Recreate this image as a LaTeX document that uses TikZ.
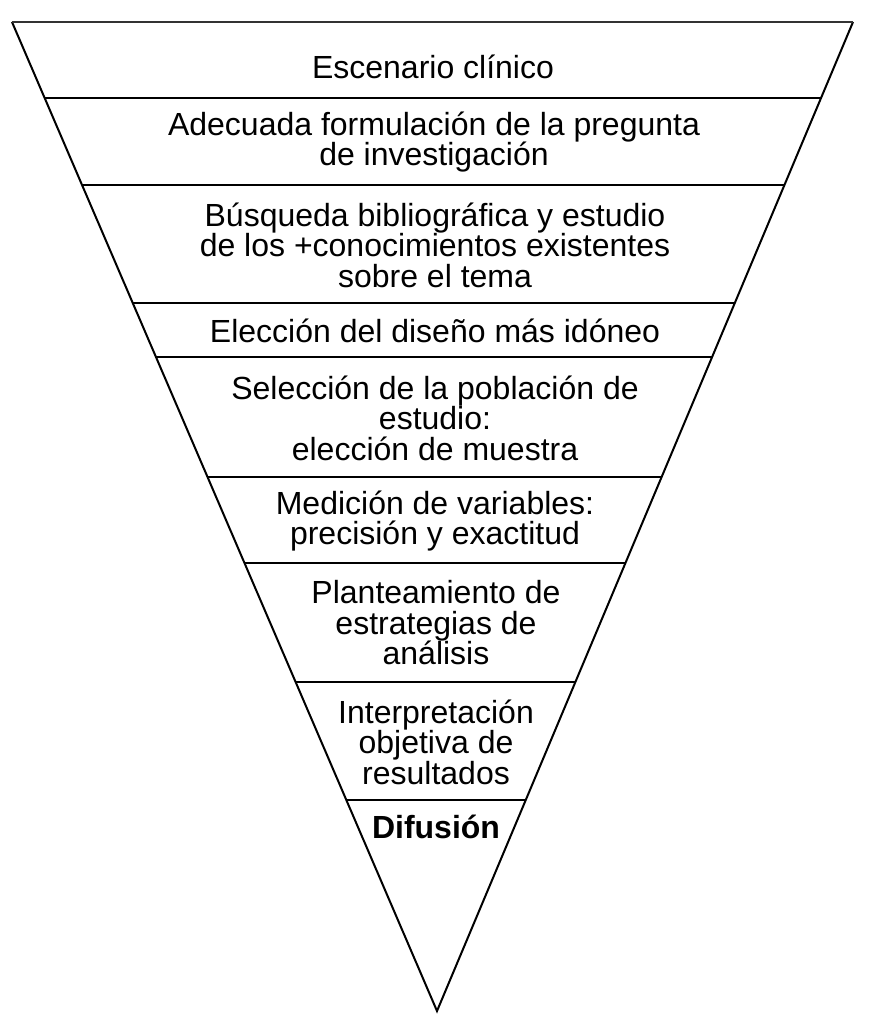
\documentclass[tikz,border=0pt]{standalone}
\usepackage{fontspec}
\setmainfont{Liberation Sans}
\usetikzlibrary{calc}
\begin{document}
\begin{tikzpicture}[x=1pt,y=-1pt,
  edge/.style={line width=2pt,line join=miter},
  sep/.style={line width=2.8pt},
  lbl/.style={align=center,inner sep=0pt,font=\fontsize{32}{30.5}\selectfont}]
\useasboundingbox (0,0) rectangle (884,1032);
\coordinate (TL) at (12,22);
\coordinate (TR) at (853,22);
\coordinate (A) at (437,1011);
\draw[edge] (TR) -- (A) -- (TL);
\draw[line width=1.5pt,black!80] (TL) -- (TR);
\foreach \n/\y in {1/98,2/185,3/303,4/357,5/477,6/563,7/682,8/800}{
  \coordinate (l\n) at ($(TL)!{(\y-22)/989}!(A)$);
  \coordinate (r\n) at ($(TR)!{(\y-22)/989}!(A)$);
  \draw[sep] (l\n) -- (r\n);
}
\node[lbl,anchor=base] (t1) at (433,79) {Escenario clínico};
\node[lbl] (t2) at (434,142) {Adecuada formulación de la pregunta\\de investigación};
\node[lbl] (t3) at (435,245) {Búsqueda bibliográfica y estudio\\de los +conocimientos existentes\\sobre el tema};
\node[lbl] (t4) at (435,331) {Elección del diseño más idóneo};
\node[lbl] (t5) at (435,418) {Selección de la población de\\estudio:\\elección de muestra};
\node[lbl] (t6) at (435,521) {Medición de variables:\\precisión y exactitud};
\node[lbl] (t7) at (436,623) {Planteamiento de\\estrategias de\\análisis};
\node[lbl] (t8) at (436,742) {Interpretación\\objetiva de\\resultados};
\node[lbl,anchor=base,font=\fontsize{32}{30.5}\selectfont\bfseries] (t9) at (436,838) {Difusión};
\end{tikzpicture}
\end{document}
